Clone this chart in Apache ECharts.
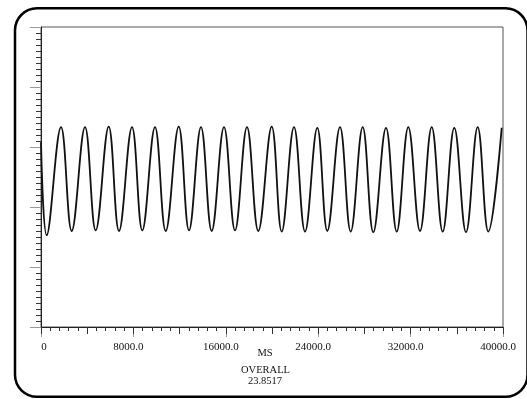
<!DOCTYPE html>
<html>
<head>
<meta charset="utf-8">
<script src="https://cdn.jsdelivr.net/npm/echarts@6/dist/echarts.min.js"></script>
<style>html,body{margin:0;padding:0;background:#fff}#c{width:527px;height:399px}</style>
</head>
<body>
<div id="c"></div>
<script>
// ---- data ----
const xTickLabels = ['0', '8000.0', '16000.0', '24000.0', '32000.0', '40000.0'];
const xAxisTitle = 'MS';
const footerTitle = 'OVERALL';
const footerValue = '23.8517';

const startTime = 0;
const startValue = 3.08;
const troughTimes = [494, 2658, 4736, 6753, 8771, 10797, 12814, 14779, 16797, 18814,
                     20840, 22857, 24788, 26813, 28770, 30796, 32813, 34779, 36797, 38728];
const troughValues = [1.53, 1.60, 1.61, 1.60, 1.61, 1.60, 1.61, 1.60, 1.61, 1.60,
                      1.59, 1.59, 1.60, 1.59, 1.58, 1.59, 1.60, 1.59, 1.58, 1.59];
const peakTimes = [1732, 3810, 5861, 7879, 9870, 11922, 13852, 15844, 17835, 19974,
                   21905, 23922, 25887, 27853, 29870, 31801, 33827, 35783, 37809, 39887];
const peakValues = [3.33, 3.33, 3.34, 3.33, 3.33, 3.34, 3.33, 3.33, 3.33, 3.34,
                    3.33, 3.32, 3.33, 3.33, 3.32, 3.33, 3.33, 3.32, 3.33, 3.32];

// ---- build series ----
const pts = [[startTime, startValue]];
troughTimes.forEach((t, i) => pts.push([t, troughValues[i]]));
peakTimes.forEach((t, i) => pts.push([t, peakValues[i]]));
pts.sort((a, b) => a[0] - b[0]);

const chart = echarts.init(document.getElementById('c'), null, {renderer: 'canvas'});
const labelFont = 'Liberation Serif, Times New Roman, serif';

chart.setOption({
  animation: false,
  backgroundColor: '#fff',
  grid: {left: 41, right: 24, top: 27, bottom: 72, show: true, borderColor: '#555', borderWidth: 1, containLabel: false},
  xAxis: [{
    type: 'value', min: 0, max: 40000, interval: 8000,
    axisLine: {show: true, lineStyle: {color: '#222', width: 1}},
    axisTick: {show: true, length: 10, lineStyle: {color: '#999', width: 1}},
    minorTick: {show: true, splitNumber: 10, length: 4, lineStyle: {color: '#333', width: 1}},
    splitLine: {show: false}, minorSplitLine: {show: false},
    axisLabel: {
      show: true, margin: 15, fontFamily: labelFont, fontSize: 11, color: '#111',
      formatter: function (v) {
        const idx = Math.round(v / 8000);
        const s = xTickLabels[idx];
        return idx === 0 ? '{z|' + s + '}' : '{n|' + s + '}';
      },
      rich: {
        z: {fontFamily: labelFont, fontSize: 11, color: '#111', padding: [0, 0, 0, 6]},
        n: {fontFamily: labelFont, fontSize: 11, color: '#111', padding: [0, 10, 0, 0]}
      }
    }
  }, {
    type: 'value', min: 0, max: 40000, interval: 4000, position: 'bottom',
    axisLine: {show: false},
    axisTick: {show: true, length: 7, lineStyle: {color: '#333', width: 1}},
    axisLabel: {show: false}, splitLine: {show: false}
  }],
  yAxis: {
    type: 'value', min: 0, max: 5, interval: 1,
    axisLine: {show: true, lineStyle: {color: '#222', width: 1}},
    axisTick: {show: true, length: 11, lineStyle: {color: '#999', width: 1}},
    minorTick: {show: true, splitNumber: 10, length: 5, lineStyle: {color: '#333', width: 1}},
    splitLine: {show: false}, minorSplitLine: {show: false},
    axisLabel: {show: false}
  },
  series: [{
    type: 'line', xAxisIndex: 0, data: pts, showSymbol: false, smooth: 0.4,
    lineStyle: {color: '#111', width: 1.8}
  }],
  graphic: [
    {type: 'rect', shape: {x: 15, y: 8.3, width: 512.5, height: 388.5, r: 22}, style: {fill: null, stroke: '#000', lineWidth: 2.5}, silent: true},
    {type: 'text', x: 265, y: 353, style: {text: xAxisTitle, font: '10.5px ' + labelFont, fill: '#111', textAlign: 'center', textVerticalAlign: 'middle'}},
    {type: 'text', x: 265.5, y: 370, style: {text: footerTitle, font: '10.5px ' + labelFont, fill: '#111', textAlign: 'center', textVerticalAlign: 'middle'}},
    {type: 'text', x: 265, y: 381, style: {text: footerValue, font: '10.5px ' + labelFont, fill: '#111', textAlign: 'center', textVerticalAlign: 'middle'}}
  ]
});
</script>
</body>
</html>
